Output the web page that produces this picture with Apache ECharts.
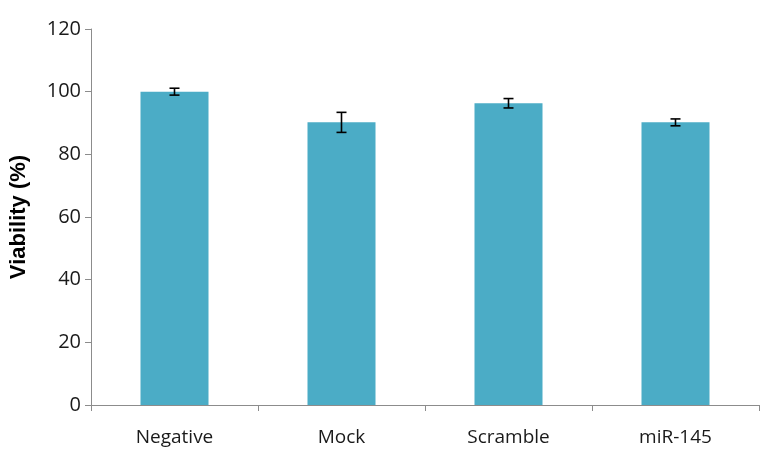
<!DOCTYPE html>
<html><head><meta charset="utf-8">
<script src="https://cdn.jsdelivr.net/npm/echarts@6/dist/echarts.min.js"></script>
<style>html,body{margin:0;padding:0;background:#fff}#c{width:765px;height:450px}</style>
</head><body><div id="c"></div>
<script>
var categories = ['Negative', 'Mock', 'Scramble', 'miR-145'];
var values = [100, 90.2, 96.3, 90.2];
var errors = [1.1, 3.2, 1.5, 1.1];
var yTicks = [0, 20, 40, 60, 80, 100, 120];

var chart = echarts.init(document.getElementById('c'));
var errData = categories.map(function (c, i) { return [i, values[i] - errors[i], values[i] + errors[i]]; });
var font = '"Open Sans", sans-serif';
chart.setOption({
  animation: false,
  grid: { left: 89, right: 6, top: 29, bottom: 45 },
  xAxis: {
    type: 'category', data: categories,
    axisLine: { lineStyle: { color: '#8c8c8c', width: 1 } },
    axisTick: { show: true, length: 6, alignWithLabel: false, lineStyle: { color: '#8c8c8c' } },
    axisLabel: { color: '#1a1a1a', fontSize: 19, fontFamily: font, margin: 23 }
  },
  yAxis: {
    type: 'value', min: yTicks[0], max: yTicks[yTicks.length - 1], interval: 20,
    name: 'Viability (%)', nameLocation: 'middle', nameGap: 61,
    nameTextStyle: { color: '#000', fontSize: 22, fontWeight: 'bold', fontFamily: '"Liberation Sans", Arial, sans-serif' },
    axisLine: { show: true, lineStyle: { color: '#8c8c8c', width: 1 } },
    axisTick: { show: true, length: 6, inside: false, lineStyle: { color: '#8c8c8c' } },
    splitLine: { show: false },
    axisLabel: { color: '#1a1a1a', fontSize: 20, fontFamily: font, margin: 10 }
  },
  series: [
    { type: 'bar', data: values, barWidth: 68, itemStyle: { color: '#4BACC6' } },
    {
      type: 'custom', data: errData, z: 10,
      renderItem: function (params, api) {
        var x = api.value(0);
        var lo = api.coord([x, api.value(1)]);
        var hi = api.coord([x, api.value(2)]);
        var w = 5;
        var st = { stroke: '#000', lineWidth: 1.6 };
        return { type: 'group', children: [
          { type: 'line', shape: { x1: hi[0], y1: hi[1], x2: lo[0], y2: lo[1] }, style: st },
          { type: 'line', shape: { x1: hi[0] - w, y1: hi[1], x2: hi[0] + w, y2: hi[1] }, style: st },
          { type: 'line', shape: { x1: lo[0] - w, y1: lo[1], x2: lo[0] + w, y2: lo[1] }, style: st }
        ]};
      }
    }
  ]
});
</script></body></html>
